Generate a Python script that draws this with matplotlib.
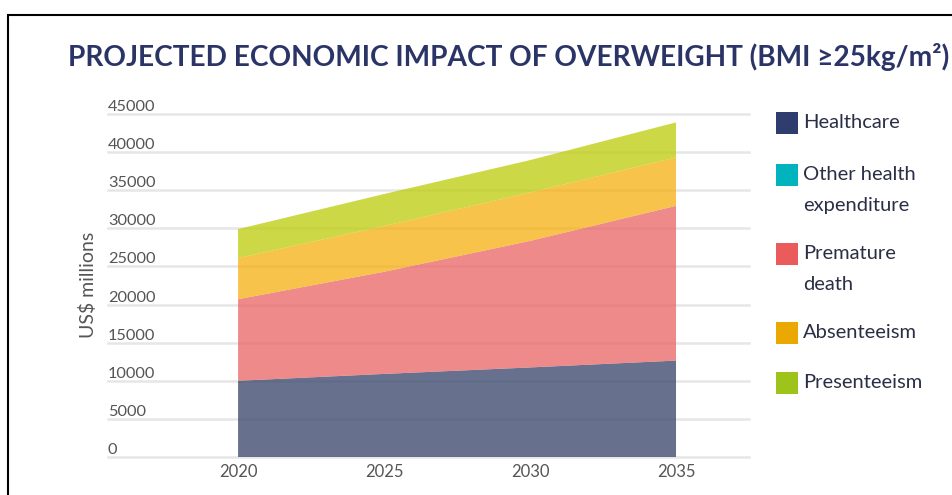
import numpy as np
import matplotlib.pyplot as plt
from matplotlib.patches import Rectangle

# values, US$ millions
years = [2020, 2025, 2030, 2035]
healthcare = [10000, 10900, 11750, 12650]
other_health = [0, 0, 0, 0]
premature_death = [10700, 13400, 16600, 20300]
absenteeism = [5400, 6000, 6350, 6350]
presenteeism = [3800, 4200, 4250, 4600]

series_labels = ["Healthcare", "Other health\nexpenditure", "Premature\ndeath",
                 "Absenteeism", "Presenteeism"]
# legend swatch colours and the (pre-alpha) fill colours of the areas
series_colors = ["#2e3d6e", "#00b3bc", "#eb5b5b", "#eaa800", "#9ec31a"]
fill_colors = ["#344268", "#00b3bc", "#ea6363", "#f6af0e", "#bccc07"]
yticks = [0, 5000, 10000, 15000, 20000, 25000, 30000, 35000, 40000, 45000]

W, H = 953, 495
fig = plt.figure(figsize=(W / 100, H / 100), dpi=100)
plt.rcParams['font.family'] = ['Lato', 'DejaVu Sans']

ax = fig.add_axes([108 / W, 38 / H, 641 / W, 343 / H])
ax.stackplot(years, healthcare, other_health, premature_death, absenteeism,
             presenteeism, colors=fill_colors, alpha=0.75, linewidth=0)

ax.set_xlim(2015.545, 2037.5)
ax.set_ylim(0, 45000)
ax.set_xticks(years)
ax.set_xticklabels([str(y) for y in years], fontsize=12, color="#555555")
ax.set_yticks(yticks)
ax.set_yticklabels([])
ax.tick_params(length=0, pad=5)
for s in ax.spines.values():
    s.set_visible(False)
ax.grid(axis='y', color="#e6e6e6", linewidth=1.8)
ax.set_axisbelow(True)
for gl in ax.get_ygridlines():
    gl.set_clip_on(False)

# y tick labels sit above the gridlines, left aligned
trans = ax.get_yaxis_transform()
for v in yticks:
    ax.text(0, v, f"{v}", transform=trans, ha="left", va="bottom",
            fontsize=11.8, color="#555555")

fig.text(88 / W, 1 - 285 / H, "US$ millions", rotation=90, ha="center",
         va="center", fontsize=14, color="#555555")

fig.text(68 / W, 1 - 57 / H, "PROJECTED ECONOMIC IMPACT OF OVERWEIGHT (BMI \u226525kg/m\u00b2)",
         ha="left", va="center", fontsize=20.2, fontweight="bold", color="#2b3467")

# legend drawn by hand so the swatch lines up with the first text line
leg_y = [123, 175, 254, 333, 383]
for lab, col, yy in zip(series_labels, series_colors, leg_y):
    fig.add_artist(Rectangle((776 / W, 1 - (yy + 11) / H), 22 / W, 22 / H,
                             transform=fig.transFigure, color=col, lw=0))
    fig.text(803 / W, 1 - (yy - 9) / H, lab, ha="left", va="top",
             fontsize=14.5, color="#2a2f45", linespacing=2.0)

# outer frame of the screenshot
fig.add_artist(Rectangle((8 / W, -0.1), 1.1, 1 - 15 / H + 0.1,
                         transform=fig.transFigure, fill=False,
                         edgecolor="black", lw=1.5))

plt.savefig("out.png", dpi=100)
plt.close()
